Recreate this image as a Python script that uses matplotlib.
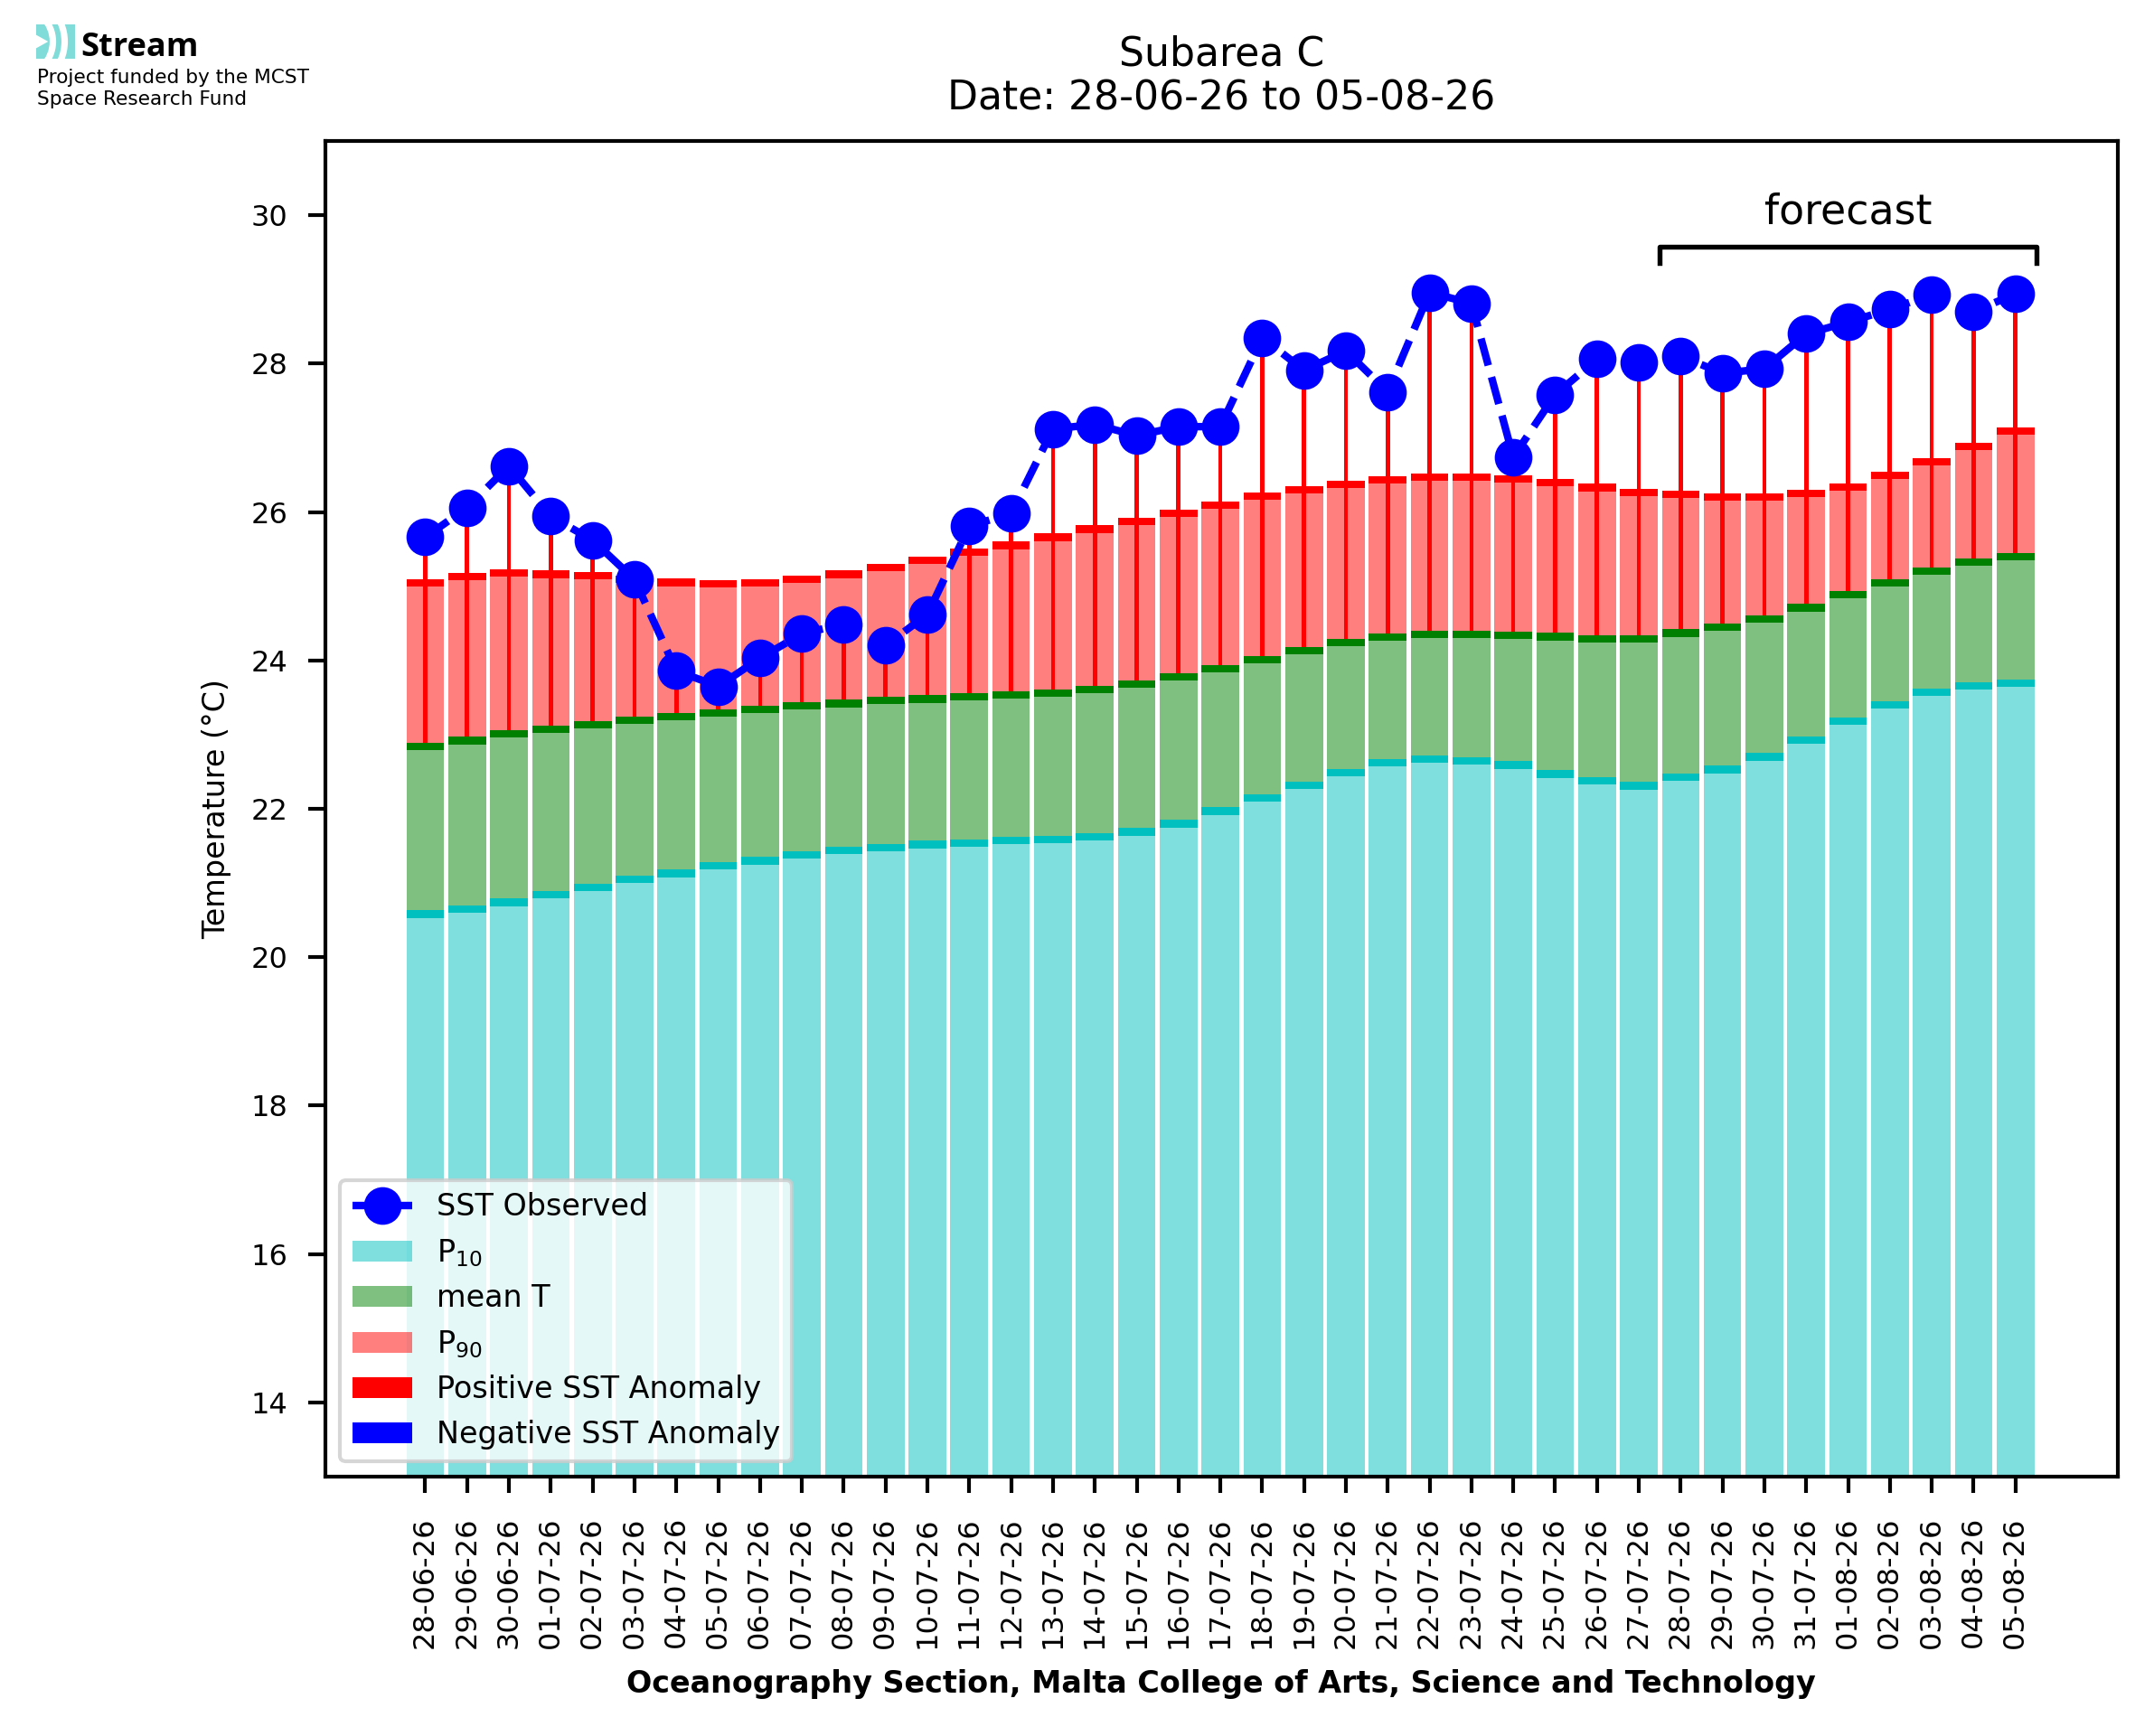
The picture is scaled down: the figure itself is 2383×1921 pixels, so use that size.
import numpy as np
import matplotlib
matplotlib.use("Agg")
import matplotlib.pyplot as plt
import matplotlib.patches as mpatches
from matplotlib.lines import Line2D

dates = ['28-06-26', '29-06-26', '30-06-26', '01-07-26', '02-07-26', '03-07-26',
         '04-07-26', '05-07-26', '06-07-26', '07-07-26', '08-07-26', '09-07-26',
         '10-07-26', '11-07-26', '12-07-26', '13-07-26', '14-07-26', '15-07-26',
         '16-07-26', '17-07-26', '18-07-26', '19-07-26', '20-07-26', '21-07-26',
         '22-07-26', '23-07-26', '24-07-26', '25-07-26', '26-07-26', '27-07-26',
         '28-07-26', '29-07-26', '30-07-26', '31-07-26', '01-08-26', '02-08-26',
         '03-08-26', '04-08-26', '05-08-26']

p10 = [20.63, 20.70, 20.79, 20.89, 20.99, 21.10, 21.18, 21.28, 21.35, 21.43,
       21.49, 21.53, 21.57, 21.59, 21.62, 21.64, 21.67, 21.74, 21.85, 22.02,
       22.20, 22.37, 22.54, 22.67, 22.72, 22.70, 22.64, 22.52, 22.43, 22.36,
       22.48, 22.58, 22.75, 22.98, 23.23, 23.45, 23.62, 23.71, 23.74]

mean_t = [22.89, 22.97, 23.06, 23.12, 23.18, 23.24, 23.29, 23.34, 23.39, 23.44,
          23.47, 23.51, 23.53, 23.56, 23.58, 23.61, 23.66, 23.73, 23.83, 23.94,
          24.06, 24.18, 24.29, 24.36, 24.40, 24.40, 24.39, 24.37, 24.34, 24.34,
          24.42, 24.50, 24.61, 24.76, 24.94, 25.09, 25.25, 25.37, 25.45]

p90 = [25.09, 25.18, 25.23, 25.21, 25.19, 25.14, 25.10, 25.08, 25.09, 25.14,
       25.21, 25.30, 25.40, 25.51, 25.60, 25.71, 25.82, 25.92, 26.03, 26.14,
       26.26, 26.35, 26.42, 26.48, 26.52, 26.52, 26.50, 26.45, 26.38, 26.31,
       26.29, 26.25, 26.25, 26.30, 26.39, 26.54, 26.73, 26.93, 27.14]

sst = [25.66, 26.06, 26.62, 25.94, 25.62, 25.09, 23.86, 23.65, 24.03, 24.36,
       24.49, 24.20, 24.62, 25.81, 25.98, 27.12, 27.18, 27.03, 27.15, 27.15,
       28.35, 27.91, 28.17, 27.62, 28.96, 28.81, 26.74, 27.58, 28.06, 28.02,
       28.10, 27.87, 27.93, 28.40, 28.56, 28.73, 28.93, 28.70, 28.94]

forecast_start = 30  # index of 28-07-26

W, H = 2383, 1921
fig = plt.figure(figsize=(W / 300, H / 300), dpi=300)
ax = fig.add_axes([359.5 / W, 1 - 1634 / H, (2343 - 359.5) / W, (1634 - 156) / H])

x = np.arange(len(dates))
p10 = np.array(p10)
mean_t = np.array(mean_t)
p90 = np.array(p90)
sst = np.array(sst)
bw = 0.9
strip = 0.1

ax.bar(x, p10, width=bw, color='c', alpha=0.5)
ax.bar(x, mean_t - p10, bottom=p10, width=bw, color='g', alpha=0.5)
ax.bar(x, p90 - mean_t, bottom=mean_t, width=bw, color='r', alpha=0.5)
ax.bar(x, strip, bottom=p10 - strip, width=bw, color='c')
ax.bar(x, strip, bottom=mean_t - strip, width=bw, color='g')
ax.bar(x, strip, bottom=p90 - strip, width=bw, color='r')

anom = sst - mean_t
pos = anom >= 0
ax.bar(x[pos], anom[pos], bottom=mean_t[pos], width=0.1, color='r', zorder=2)
ax.bar(x[~pos], anom[~pos], bottom=mean_t[~pos], width=0.1, color='b', zorder=2)

ax.plot(x, sst, 'bo--', lw=2, ms=9, zorder=3)

# forecast bracket
fx0, fx1 = forecast_start - 0.5, len(dates) - 0.5
ax.plot([fx0, fx0, fx1, fx1], [29.35, 29.57, 29.57, 29.35], 'k-', lw=1.3)
ax.text((fx0 + fx1) / 2, 30.04, 'forecast', ha='center', va='center', fontsize=11)

ax.set_ylim(13, 31)
ax.set_xticks(x)
ax.set_xticklabels(dates, rotation=90, fontsize=7.7)
ax.tick_params(axis='y', labelsize=7.7, length=4.5, width=1.0, pad=5.4)
ax.tick_params(axis='x', length=4.4, width=1.0, pad=6.2)
for s in ax.spines.values():
    s.set_linewidth(1.0)
ax.set_ylabel('Temperature (°C)', fontsize=8, labelpad=5)
ax.set_xlabel('Oceanography Section, Malta College of Arts, Science and Technology',
              fontsize=8, fontweight='bold', labelpad=5.5)
ax.set_title('Subarea C\nDate: 28-06-26 to 05-08-26', fontsize=10.6, pad=8.2)

handles = [
    Line2D([], [], color='b', ls='--', lw=2, marker='o', ms=9),
    mpatches.Patch(facecolor='c', alpha=0.5, lw=0),
    mpatches.Patch(facecolor='g', alpha=0.5, lw=0),
    mpatches.Patch(facecolor='r', alpha=0.5, lw=0),
    mpatches.Patch(facecolor='r', lw=0),
    mpatches.Patch(facecolor='b', lw=0),
]
labels = ['SST Observed', 'P$_{10}$', 'mean T', 'P$_{90}$',
          'Positive SST Anomaly', 'Negative SST Anomaly']
ax.legend(handles, labels, loc='lower left', fontsize=8)

# logo
lax = fig.add_axes([40 / W, 1 - 65 / H, 43 / W, 38 / H])
lax.set_xlim(0, 43)
lax.set_ylim(0, 38)
lax.axis('off')
logo_c = '#7fdcd8'
lax.add_patch(mpatches.Rectangle((0, 0), 43, 38, color=logo_c))
for r0, r1 in [(37, 40), (50, 53)]:
    lax.add_patch(mpatches.Wedge((-20, 19), r1, -90, 90, width=r1 - r0, color='white'))
lax.add_patch(mpatches.Polygon([(0, 14), (9, 19), (0, 24)], color='white'))
fig.text(89 / W, 1 - 62 / H, 'Stream', fontsize=8.7, fontweight='bold',
         family='Open Sans', ha='left', va='baseline')
fig.text(41 / W, 1 - 98 / H, 'Project funded by the MCST\nSpace Research Fund',
         fontsize=5.2, ha='left', va='center', linespacing=1.2)

fig.savefig('out.png', dpi=300)
